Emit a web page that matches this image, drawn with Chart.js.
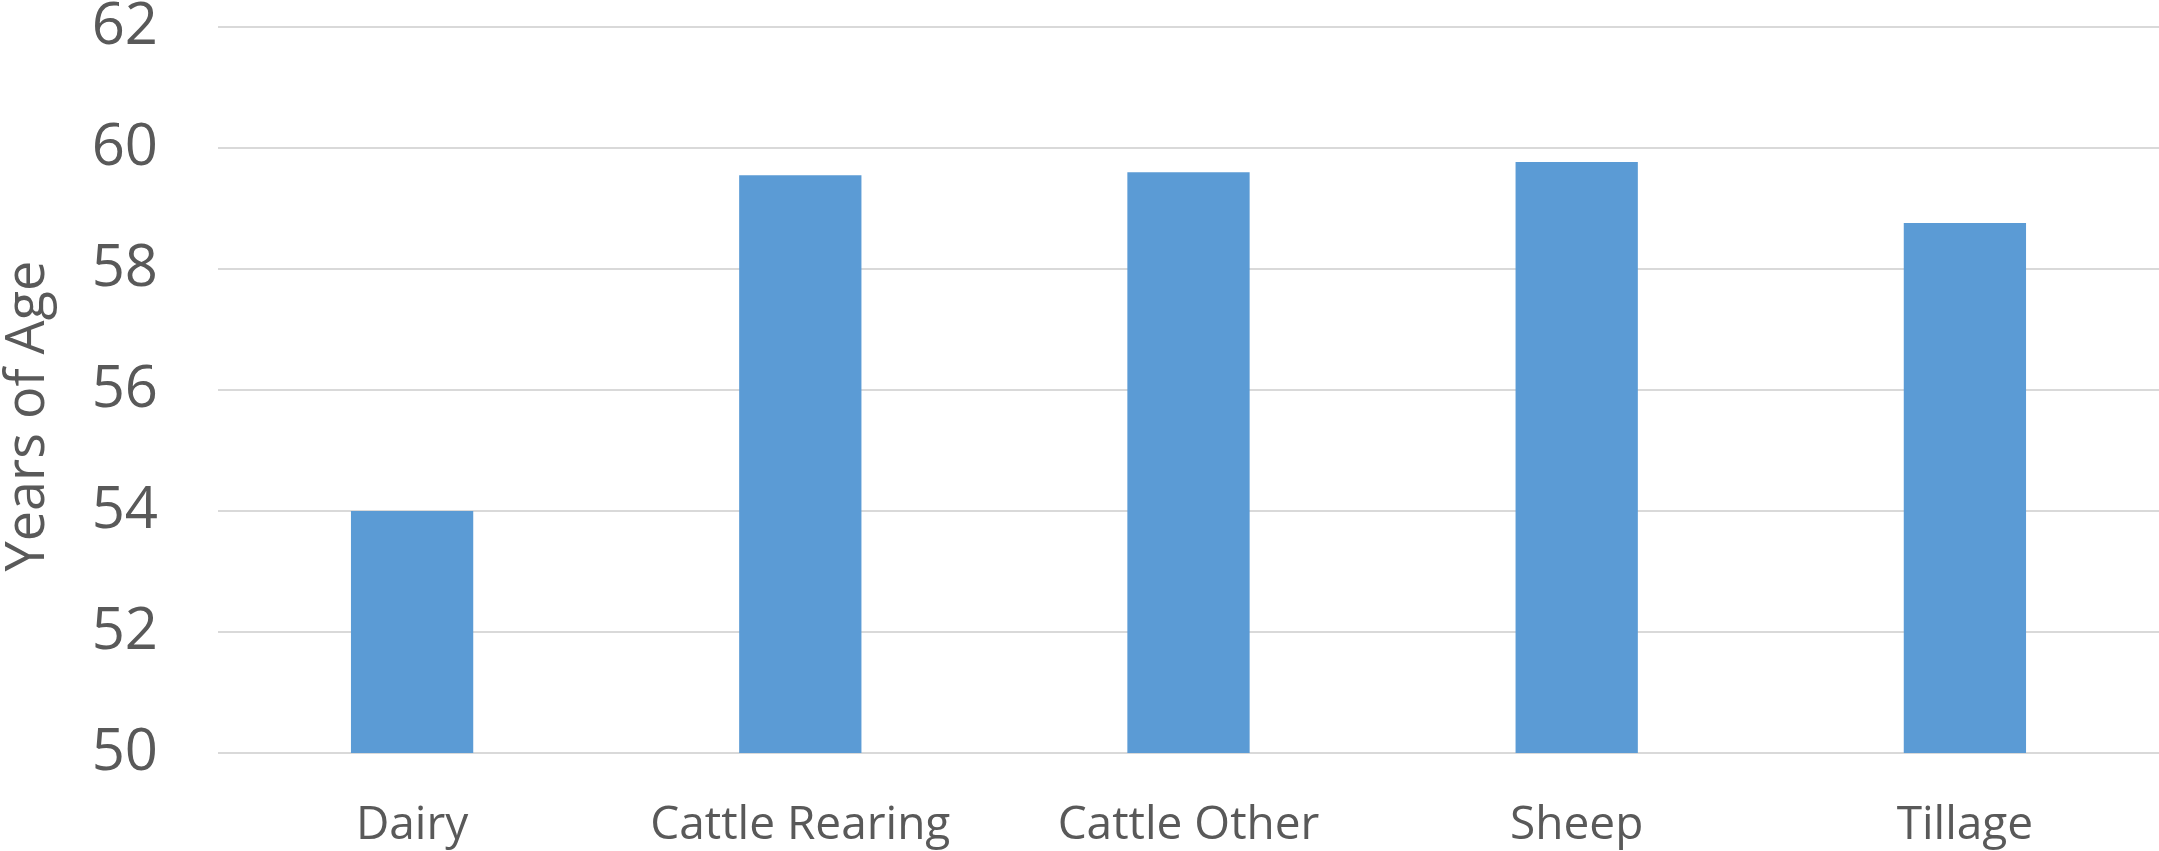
<!DOCTYPE html>
<html>
<head>
<meta charset="utf-8">
<script src="https://cdn.jsdelivr.net/npm/chart.js@4"></script>
<style>
  html, body { margin: 0; padding: 0; background: #fff; }
  #wrap { width: 2159px; height: 851px; }
</style>
</head>
<body>
<div id="wrap"><canvas id="age-chart" width="2159" height="851"></canvas></div>
<script>
const categories = ['Dairy', 'Cattle Rearing', 'Cattle Other', 'Sheep', 'Tillage'];
const ageValues = [54.0, 59.55, 59.6, 59.77, 58.76];
const yTicks = [50, 52, 54, 56, 58, 60, 62];
const yTitle = 'Years of Age';

const textColor = '#595959';

// y axis title, drawn a bit below the plot centre like the original
const yTitlePlugin = {
    id: 'yTitle',
    afterDraw(chart) {
        const c = chart.ctx;
        const area = chart.chartArea;
        c.save();
        c.translate(29, (area.top + area.bottom) / 2 + 26);
        c.rotate(-Math.PI / 2);
        c.font = '54px "Open Sans"';
        c.fillStyle = textColor;
        c.textAlign = 'center';
        c.textBaseline = 'middle';
        c.fillText(yTitle, 0, 0);
        c.restore();
    }
};

const ctx = document.getElementById('age-chart').getContext('2d');
const ageChart = new Chart(ctx, {
    type: 'bar',
    data: {
        labels: categories,
        datasets: [{
            label: yTitle,
            data: ageValues,
            backgroundColor: '#5b9bd5',
            borderWidth: 0,
            barPercentage: 1,
            categoryPercentage: 0.315
        }]
    },
    options: {
        responsive: false,
        animation: false,
        layout: { padding: 0 },
        plugins: {
            legend: { display: false },
            tooltip: { enabled: false }
        },
        scales: {
            x: {
                grid: { display: false },
                border: { display: false },
                ticks: {
                    color: textColor,
                    font: { family: 'Open Sans', size: 46 },
                    padding: 37,
                    maxRotation: 0
                },
                afterFit: (scale) => { scale.height = 98; }
            },
            y: {
                min: yTicks[0],
                max: yTicks[yTicks.length - 1],
                afterBuildTicks: (scale) => {
                    scale.ticks = yTicks.map(v => ({ value: v }));
                },
                grid: {
                    color: '#d9d9d9',
                    lineWidth: 2,
                    drawTicks: false
                },
                border: { display: false },
                ticks: {
                    color: textColor,
                    font: { family: 'Open Sans', size: 58 },
                    padding: 60
                },
                afterFit: (scale) => {
                    scale.width = 218;
                    scale.paddingTop = 27;
                    scale.paddingBottom = 0;
                }
            }
        }
    },
    plugins: [yTitlePlugin]
});
</script>
</body>
</html>
